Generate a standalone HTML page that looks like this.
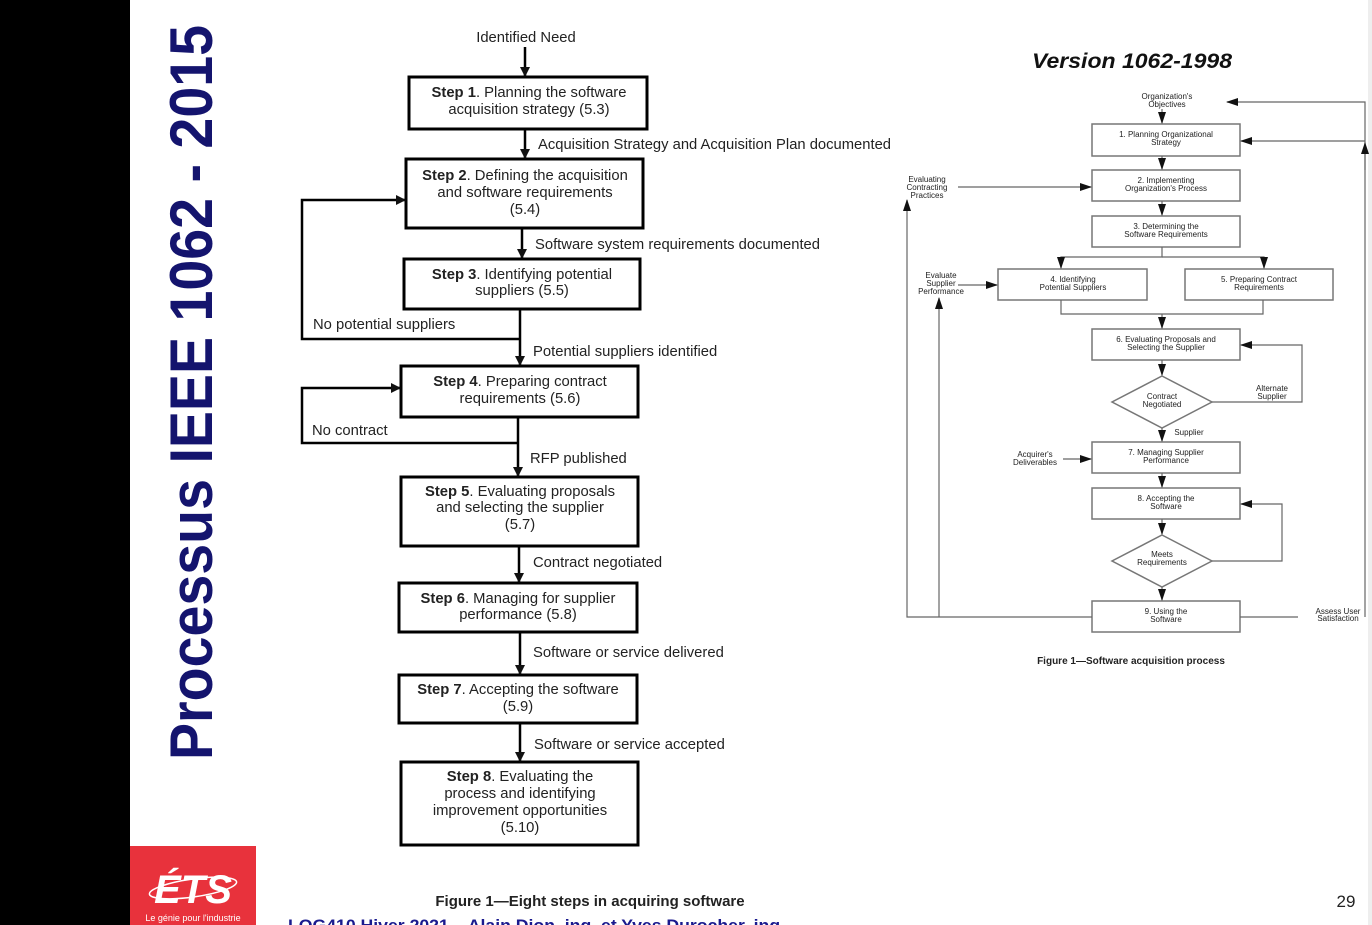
<!DOCTYPE html>
<html><head><meta charset="utf-8"><style>
html,body{margin:0;padding:0;background:#fff;}
svg{display:block;}
</style></head><body>
<svg width="1372" height="925" viewBox="0 0 1372 925" xmlns="http://www.w3.org/2000/svg" font-family="Liberation Sans, Arial, sans-serif">
<defs>
<marker id="a" markerWidth="10" markerHeight="10" refX="9" refY="5" orient="auto" markerUnits="userSpaceOnUse"><path d="M0,0 L10,5 L0,10 z" fill="#111"/></marker>
<marker id="g" markerWidth="12" markerHeight="8" refX="11" refY="4" orient="auto" markerUnits="userSpaceOnUse"><path d="M0,0 L12,4 L0,8 z" fill="#111"/></marker>
</defs>
<rect x="0" y="0" width="130" height="925" fill="#000"/>
<rect x="1368" y="0" width="4" height="925" fill="#eee"/>
<text transform="translate(212,760) rotate(-90)" font-size="60" font-weight="bold" fill="#14146e" textLength="735" lengthAdjust="spacingAndGlyphs">Processus IEEE 1062 - 2015</text>
<!-- ETS logo -->
<rect x="130" y="846" width="126" height="79" fill="#e8323c"/>
<text x="193" y="903" font-size="40" font-weight="bold" font-style="italic" fill="#fff" text-anchor="middle">ÉTS</text>
<ellipse cx="193" cy="888" rx="44" ry="9" fill="none" stroke="#fff" stroke-width="1.5" transform="rotate(-8 193 888)"/>
<text x="193" y="921" font-size="9" fill="#fff" text-anchor="middle">Le génie pour l'industrie</text>

<!-- Left flowchart -->
<g fill="none" stroke="#000" stroke-width="3">
<rect x="409" y="77" width="238" height="52"/>
<rect x="406" y="159" width="237" height="69"/>
<rect x="404" y="259" width="236" height="50"/>
<rect x="401" y="366" width="237" height="51"/>
<rect x="401" y="477" width="237" height="69"/>
<rect x="399" y="583" width="238" height="49"/>
<rect x="399" y="675" width="238" height="48"/>
<rect x="401" y="762" width="237" height="83"/>
</g>
<g stroke="#000" stroke-width="2.5" marker-end="url(#a)">
<line x1="525" y1="47" x2="525" y2="76"/>
<line x1="525" y1="129" x2="525" y2="158"/>
<line x1="522" y1="228" x2="522" y2="258"/>
<line x1="520" y1="309" x2="520" y2="365"/>
<line x1="518" y1="417" x2="518" y2="476"/>
<line x1="519" y1="546" x2="519" y2="582"/>
<line x1="520" y1="632" x2="520" y2="674"/>
<line x1="520" y1="723" x2="520" y2="761"/>
<polyline fill="none" points="520,339 302,339 302,200 405,200"/>
<polyline fill="none" points="518,443 302,443 302,388 400,388"/>
</g>
<g font-size="14.8" fill="#222" text-anchor="middle">
<text x="526" y="42">Identified Need</text>
<text x="529" y="97"><tspan font-weight="bold">Step 1</tspan>.  Planning the software</text>
<text x="529" y="114">acquisition strategy (5.3)</text>
<text x="525" y="180"><tspan font-weight="bold">Step 2</tspan>.  Defining the acquisition</text>
<text x="525" y="197">and software requirements</text>
<text x="525" y="214">(5.4)</text>
<text x="522" y="279"><tspan font-weight="bold">Step 3</tspan>.  Identifying potential</text>
<text x="522" y="295">suppliers (5.5)</text>
<text x="520" y="386"><tspan font-weight="bold">Step 4</tspan>.  Preparing contract</text>
<text x="520" y="403">requirements (5.6)</text>
<text x="520" y="496"><tspan font-weight="bold">Step 5</tspan>.  Evaluating proposals</text>
<text x="520" y="512">and selecting the supplier</text>
<text x="520" y="529">(5.7)</text>
<text x="518" y="603"><tspan font-weight="bold">Step 6</tspan>.  Managing for supplier</text>
<text x="518" y="619">performance (5.8)</text>
<text x="518" y="694"><tspan font-weight="bold">Step 7</tspan>.  Accepting the software</text>
<text x="518" y="711">(5.9)</text>
<text x="520" y="781"><tspan font-weight="bold">Step 8</tspan>.  Evaluating the</text>
<text x="520" y="798">process and identifying</text>
<text x="520" y="815">improvement opportunities</text>
<text x="520" y="832">(5.10)</text>
</g>
<g font-size="14.8" fill="#222">
<text x="538" y="149" textLength="353" lengthAdjust="spacingAndGlyphs">Acquisition Strategy and Acquisition Plan documented</text>
<text x="535" y="249" textLength="285" lengthAdjust="spacingAndGlyphs">Software system requirements documented</text>
<text x="313" y="329">No potential suppliers</text>
<text x="533" y="356">Potential suppliers identified</text>
<text x="312" y="435">No contract</text>
<text x="530" y="463">RFP published</text>
<text x="533" y="567">Contract negotiated</text>
<text x="533" y="657">Software or service delivered</text>
<text x="534" y="749">Software or service accepted</text>
</g>
<text x="590" y="906" font-size="15" font-weight="bold" fill="#222" text-anchor="middle">Figure 1—Eight steps in acquiring software</text>
<text x="288" y="931" font-size="17" font-weight="bold" fill="#1a1a8e" textLength="497" lengthAdjust="spacingAndGlyphs">LOG410 Hiver 2021 – Alain Dion, ing. et Yves Durocher, ing.</text>
<text x="1346" y="907" font-size="17" fill="#222" text-anchor="middle">29</text>

<!-- Right diagram -->
<text x="1032" y="68" font-size="21" font-weight="bold" font-style="italic" fill="#111" textLength="200" lengthAdjust="spacingAndGlyphs">Version 1062-1998</text>
<g fill="#fff" stroke="#777" stroke-width="1.5">
<rect x="1092" y="124" width="148" height="32"/>
<rect x="1092" y="170" width="148" height="31"/>
<rect x="1092" y="216" width="148" height="31"/>
<rect x="998" y="269" width="149" height="31"/>
<rect x="1185" y="269" width="148" height="31"/>
<rect x="1092" y="329" width="148" height="31"/>
<polygon points="1162,376 1212,402 1162,428 1112,402"/>
<rect x="1092" y="442" width="148" height="31"/>
<rect x="1092" y="488" width="148" height="31"/>
<polygon points="1162,535 1212,561 1162,587 1112,561"/>
<rect x="1092" y="601" width="148" height="31"/>
</g>
<g fill="none" stroke="#666" stroke-width="1.2">
<polyline points="1162,247 1162,257 1061,257 1061,268" marker-end="url(#g)"/>
<polyline points="1162,257 1264,257 1264,268" marker-end="url(#g)"/>
<polyline points="1061,300 1061,314 1263,314 1263,300"/>
<line x1="1162" y1="109" x2="1162" y2="123" marker-end="url(#g)"/>
<line x1="1162" y1="156" x2="1162" y2="169" marker-end="url(#g)"/>
<line x1="1162" y1="201" x2="1162" y2="215" marker-end="url(#g)"/>
<line x1="1162" y1="314" x2="1162" y2="328" marker-end="url(#g)"/>
<line x1="1162" y1="360" x2="1162" y2="375" marker-end="url(#g)"/>
<line x1="1162" y1="428" x2="1162" y2="441" marker-end="url(#g)"/>
<line x1="1162" y1="473" x2="1162" y2="487" marker-end="url(#g)"/>
<line x1="1162" y1="519" x2="1162" y2="534" marker-end="url(#g)"/>
<line x1="1162" y1="587" x2="1162" y2="600" marker-end="url(#g)"/>
<polyline points="1240,617 1298,617"/>
<polyline points="1365,617 1365,102 1227,102" marker-end="url(#g)"/>
<line x1="1365" y1="141" x2="1241" y2="141" marker-end="url(#g)"/>
<line x1="1365" y1="170" x2="1365" y2="143" marker-end="url(#g)"/>
<polyline points="1092,617 907,617 907,200" marker-end="url(#g)"/>
<line x1="939" y1="617" x2="939" y2="298" marker-end="url(#g)"/>
<line x1="958" y1="187" x2="1091" y2="187" marker-end="url(#g)"/>
<line x1="958" y1="285" x2="997" y2="285" marker-end="url(#g)"/>
<line x1="1063" y1="459" x2="1091" y2="459" marker-end="url(#g)"/>
<polyline points="1212,402 1302,402 1302,345 1241,345" marker-end="url(#g)"/>
<polyline points="1212,561 1282,561 1282,504 1241,504" marker-end="url(#g)"/>
</g>
<g font-size="8" fill="#222" text-anchor="middle">
<text x="1167" y="99">Organization's</text><text x="1167" y="107">Objectives</text>
<text x="1166" y="137">1. Planning Organizational</text><text x="1166" y="145">Strategy</text>
<text x="1166" y="183">2. Implementing</text><text x="1166" y="191">Organization's Process</text>
<text x="1166" y="229">3. Determining the</text><text x="1166" y="237">Software Requirements</text>
<text x="1073" y="282">4. Identifying</text><text x="1073" y="290">Potential Suppliers</text>
<text x="1259" y="282">5. Preparing Contract</text><text x="1259" y="290">Requirements</text>
<text x="1166" y="342">6. Evaluating Proposals and</text><text x="1166" y="350">Selecting the Supplier</text>
<text x="1162" y="399">Contract</text><text x="1162" y="407">Negotiated</text>
<text x="1166" y="455">7. Managing Supplier</text><text x="1166" y="463">Performance</text>
<text x="1166" y="501">8. Accepting the</text><text x="1166" y="509">Software</text>
<text x="1162" y="557">Meets</text><text x="1162" y="565">Requirements</text>
<text x="1166" y="614">9. Using the</text><text x="1166" y="622">Software</text>
<text x="927" y="182">Evaluating</text><text x="927" y="190">Contracting</text><text x="927" y="198">Practices</text>
<text x="941" y="278">Evaluate</text><text x="941" y="286">Supplier</text><text x="941" y="294">Performance</text>
<text x="1272" y="391">Alternate</text><text x="1272" y="399">Supplier</text>
<text x="1189" y="435">Supplier</text>
<text x="1035" y="457">Acquirer's</text><text x="1035" y="465">Deliverables</text>
<text x="1338" y="614">Assess User</text><text x="1338" y="621">Satisfaction</text>
</g>
<text x="1131" y="664" font-size="10" font-weight="bold" fill="#222" text-anchor="middle">Figure 1—Software acquisition process</text>
</svg>
</body></html>
